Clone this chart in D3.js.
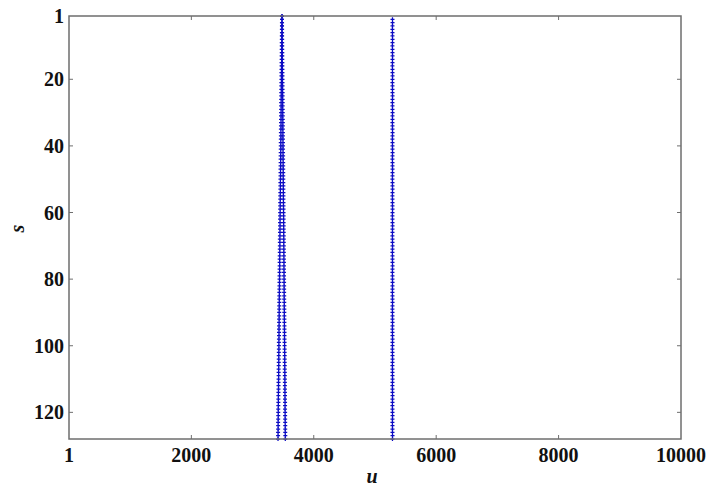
<!DOCTYPE html>
<meta charset="utf-8">
<style>
body { margin: 0; background: #fff; }
svg { display: block; }
.tick-label {
  font-family: "Liberation Serif", "Times New Roman", serif;
  font-weight: bold;
  font-size: 20px;
  fill: #111;
}
.axis-title {
  font-family: "Liberation Serif", "Times New Roman", serif;
  font-weight: bold;
  font-style: italic;
  font-size: 20px;
  fill: #111;
}
</style>
<svg width="710" height="488"></svg>
<script src="https://d3js.org/d3.v7.min.js"></script>
<script>

// s runs 1..128 down the y axis
var sFirst = 1;

// left trace, lower branch (u per s, s = 1..128)
var branchA = [
  3481, 3481, 3480, 3480, 3479, 3480, 3478, 3478,
  3477, 3477, 3476, 3477, 3475, 3475, 3474, 3474,
  3473, 3472, 3472, 3472, 3471, 3470, 3470, 3469,
  3469, 3468, 3467, 3467, 3467, 3466, 3465, 3465,
  3465, 3464, 3463, 3463, 3463, 3462, 3461, 3461,
  3461, 3460, 3459, 3459, 3459, 3458, 3457, 3457,
  3457, 3456, 3455, 3455, 3455, 3454, 3453, 3453,
  3452, 3452, 3451, 3451, 3450, 3449, 3449, 3449,
  3448, 3448, 3447, 3446, 3446, 3446, 3445, 3445,
  3444, 3443, 3443, 3443, 3442, 3441, 3441, 3441,
  3440, 3440, 3439, 3438, 3438, 3437, 3437, 3436,
  3436, 3435, 3435, 3434, 3434, 3433, 3432, 3432,
  3432, 3431, 3430, 3430, 3430, 3429, 3428, 3428,
  3428, 3427, 3426, 3426, 3426, 3425, 3424, 3424,
  3424, 3423, 3422, 3422, 3422, 3421, 3420, 3420,
  3420, 3419, 3418, 3418, 3418, 3417, 3417, 3416
];

// left trace, upper branch (u per s, s = 1..128)
var branchB = [
  3481, 3481, 3482, 3482, 3483, 3483, 3483, 3484,
  3484, 3485, 3485, 3486, 3486, 3486, 3487, 3487,
  3488, 3488, 3489, 3489, 3489, 3490, 3490, 3491,
  3491, 3492, 3492, 3492, 3493, 3493, 3494, 3494,
  3495, 3495, 3495, 3496, 3496, 3497, 3497, 3498,
  3498, 3498, 3499, 3499, 3500, 3500, 3501, 3501,
  3501, 3502, 3502, 3503, 3503, 3504, 3504, 3504,
  3505, 3505, 3506, 3506, 3507, 3507, 3507, 3508,
  3508, 3509, 3509, 3510, 3510, 3510, 3511, 3511,
  3512, 3512, 3513, 3513, 3513, 3514, 3514, 3515,
  3515, 3516, 3516, 3516, 3517, 3517, 3518, 3518,
  3519, 3519, 3519, 3520, 3520, 3521, 3521, 3522,
  3522, 3522, 3523, 3523, 3524, 3524, 3525, 3525,
  3525, 3526, 3526, 3527, 3527, 3528, 3528, 3528,
  3529, 3529, 3530, 3530, 3531, 3531, 3531, 3532,
  3532, 3533, 3533, 3534, 3534, 3534, 3535, 3535
];

// right trace (u per s, s = 2..128)
var rightFirst = 2;
var rightTrace = [
        5286, 5287, 5286, 5285, 5286, 5286, 5287,
  5286, 5285, 5286, 5286, 5287, 5286, 5286, 5285,
  5286, 5286, 5287, 5286, 5285, 5286, 5286, 5286,
  5287, 5286, 5285, 5286, 5286, 5287, 5286, 5286,
  5285, 5286, 5286, 5287, 5286, 5285, 5286, 5286,
  5286, 5287, 5286, 5285, 5286, 5286, 5287, 5286,
  5286, 5285, 5286, 5286, 5287, 5286, 5285, 5286,
  5286, 5286, 5287, 5286, 5285, 5286, 5286, 5287,
  5286, 5286, 5285, 5286, 5286, 5287, 5286, 5285,
  5286, 5286, 5286, 5287, 5286, 5285, 5286, 5286,
  5287, 5286, 5286, 5285, 5286, 5286, 5287, 5286,
  5285, 5286, 5286, 5286, 5287, 5286, 5285, 5286,
  5286, 5287, 5286, 5286, 5285, 5286, 5286, 5287,
  5286, 5285, 5286, 5286, 5286, 5287, 5286, 5285,
  5286, 5286, 5287, 5286, 5286, 5285, 5286, 5286,
  5287, 5286, 5285, 5286, 5286, 5286, 5287, 5286
];

var xTicks = [1, 2000, 4000, 6000, 8000, 10000];
var yTicks = [1, 20, 40, 60, 80, 100, 120];
var xDomain = [1, 10000];
var yDomain = [1, 128];

var svg = d3.select("svg"),
    plotL = 69, plotR = 681, plotT = 16, plotB = 439,
    tickLen = 4,
    axisColor = "#6e6e6e",
    markColor = "#0c0cc4";

var x = d3.scaleLinear().domain(xDomain).range([plotL, plotR]);
var y = d3.scaleLinear().domain(yDomain).range([plotT, plotB]);

function toPoints(arr, start) {
  return arr.map(function(u, i) { return { u: u, s: start + i }; });
}

var points = []
  .concat(toPoints(branchA, sFirst))
  .concat(toPoints(branchB, sFirst))
  .concat(toPoints(rightTrace, rightFirst));

// markers: small plus signs
svg.append("g")
    .attr("stroke", markColor)
    .attr("stroke-width", 1.25)
    .attr("fill", "none")
  .selectAll("path")
  .data(points)
  .enter().append("path")
    .attr("d", function(d) {
      var px = x(d.u), py = y(d.s), r = 2;
      return "M" + (px - r) + "," + py + "H" + (px + r) +
             "M" + px + "," + (py - r) + "V" + (py + r);
    });

// box
svg.append("rect")
    .attr("x", plotL).attr("y", plotT)
    .attr("width", plotR - plotL).attr("height", plotB - plotT)
    .attr("fill", "none")
    .attr("stroke", axisColor)
    .attr("stroke-width", 1.5);

// inward ticks, mirrored on the opposite side
var ticks = svg.append("g").attr("stroke", axisColor).attr("stroke-width", 1);

ticks.selectAll(".xt")
  .data(xTicks.slice(1, -1))
  .enter().append("path")
    .attr("d", function(d) {
      var px = x(d);
      return "M" + px + "," + plotB + "V" + (plotB - tickLen) +
             "M" + px + "," + plotT + "V" + (plotT + tickLen);
    });

ticks.selectAll(".yt")
  .data(yTicks.slice(1))
  .enter().append("path")
    .attr("d", function(d) {
      var py = y(d);
      return "M" + plotL + "," + py + "H" + (plotL + tickLen) +
             "M" + plotR + "," + py + "H" + (plotR - tickLen);
    });

// tick labels
svg.append("g").selectAll("text")
  .data(xTicks)
  .enter().append("text")
    .attr("class", "tick-label")
    .attr("x", function(d) { return x(d); })
    .attr("y", 462)
    .attr("text-anchor", "middle")
    .text(function(d) { return d; });

svg.append("g").selectAll("text")
  .data(yTicks)
  .enter().append("text")
    .attr("class", "tick-label")
    .attr("x", 64)
    .attr("y", function(d) { return y(d) + 7; })
    .attr("text-anchor", "end")
    .text(function(d) { return d; });

// axis titles
svg.append("text")
    .attr("class", "axis-title")
    .attr("x", (plotL + plotR) / 2 - 3)
    .attr("y", 483)
    .attr("text-anchor", "middle")
    .text("u");

svg.append("text")
    .attr("class", "axis-title")
    .attr("transform", "translate(24," + ((plotT + plotB) / 2 + 1) + ") rotate(-90)")
    .attr("text-anchor", "middle")
    .text("s");

</script>
